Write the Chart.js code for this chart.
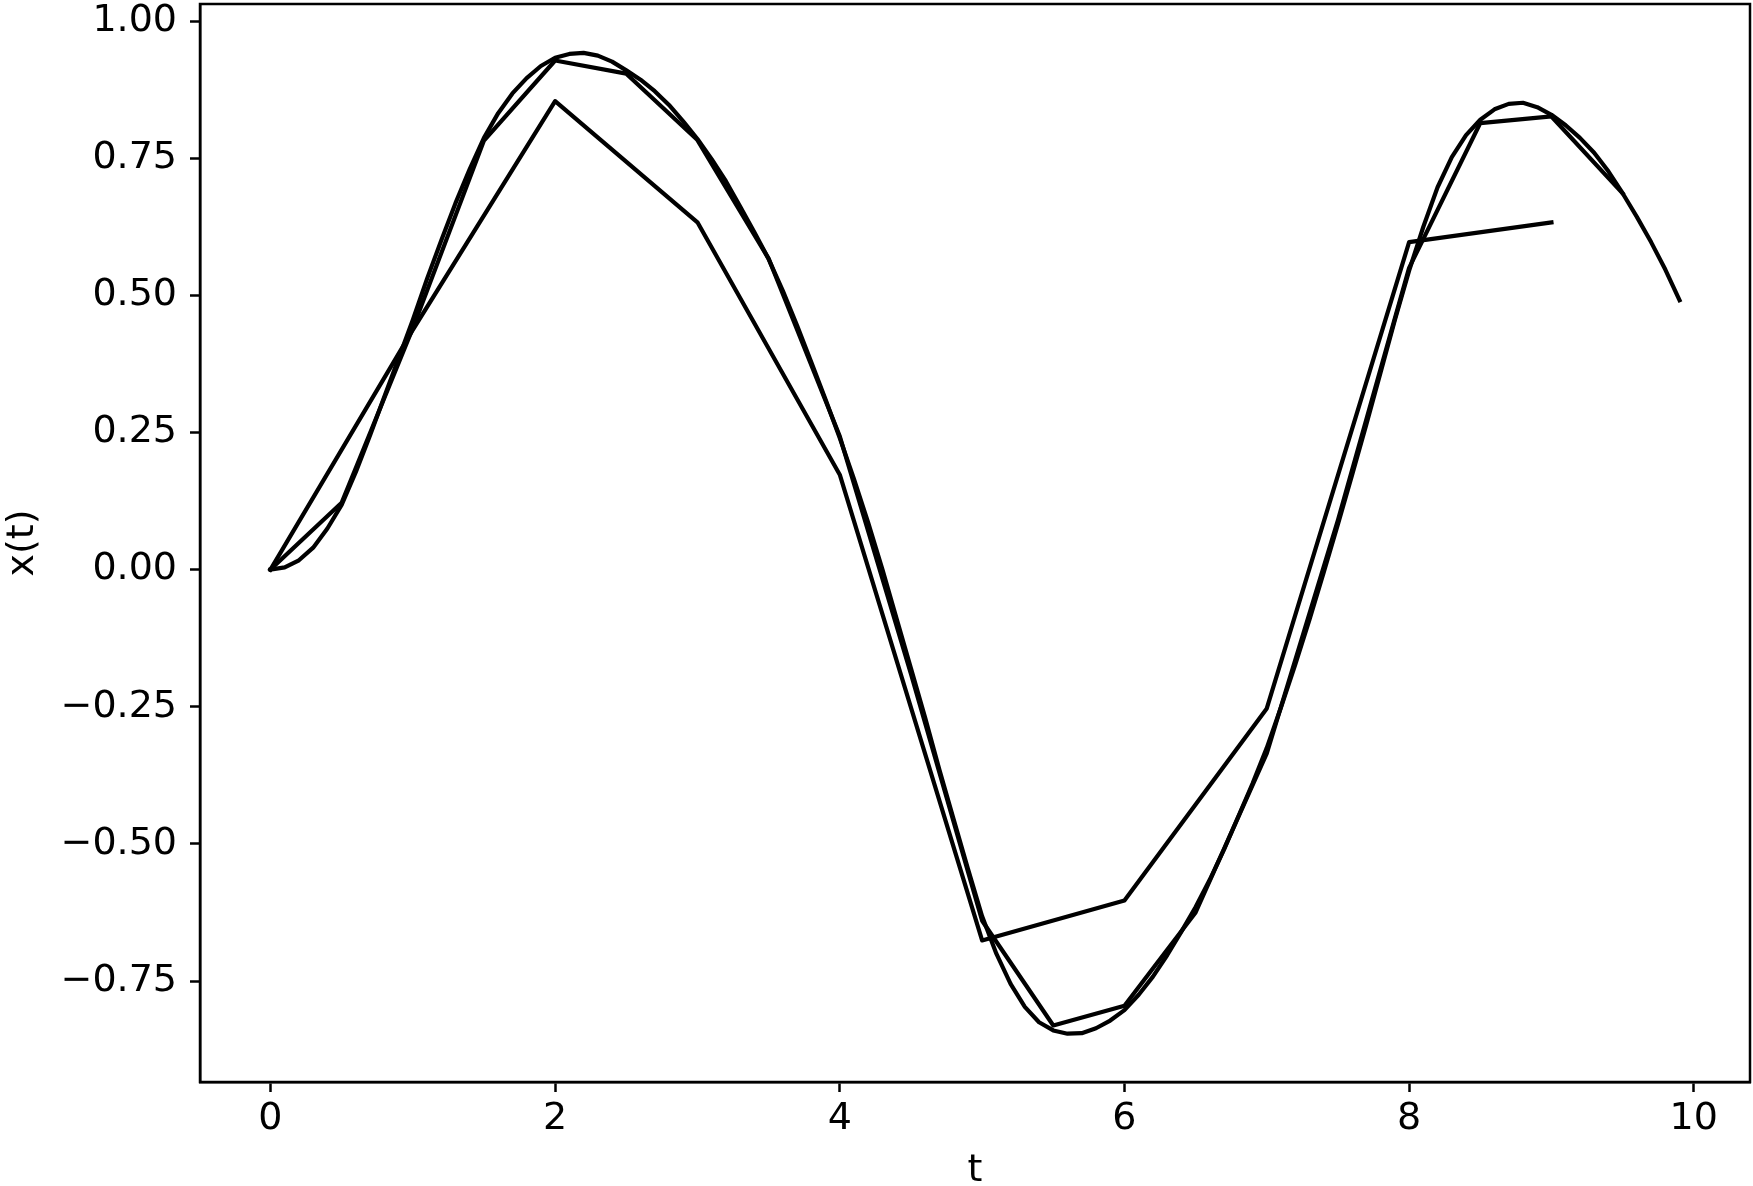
<!DOCTYPE html>
<html>
<head>
<meta charset="utf-8">
<title>x(t)</title>
<script src="https://cdn.jsdelivr.net/npm/chart.js@4.4.1/dist/chart.umd.min.js"></script>
<style>
    html, body { margin: 0; padding: 0; background: #ffffff; }
    #wrap { width: 1753px; height: 1186px; }
</style>
</head>
<body>
<div id="wrap"><canvas id="solution" width="1753" height="1186"></canvas></div>
<script>
// step h = 1
const tStep1 = [0, 1, 2, 3, 4, 5, 6, 7, 8, 9];
const xStep1 = [0, 0.437, 0.854, 0.633, 0.173, -0.676, -0.603, -0.253, 0.597, 0.633];

// step h = 0.5
const tStep05 = [0, 0.5, 1, 1.5, 2, 2.5, 3, 3.5, 4, 4.5, 5, 5.5, 6, 6.5, 7, 7.5, 8, 8.5, 9, 9.5];
const xStep05 = [0, 0.122, 0.440, 0.782, 0.928, 0.904, 0.783, 0.567, 0.243, -0.190,
                 -0.640, -0.831, -0.795, -0.625, -0.335, 0.090, 0.550, 0.814, 0.826, 0.686];

// step h = 0.1 (t = 0, 0.1, ... 9.9)
const hFine = 0.1;
const xFine = [
    0.000, 0.004, 0.017, 0.040, 0.075, 0.118, 0.178, 0.245, 0.315, 0.385,
    0.455, 0.530, 0.600, 0.668, 0.730, 0.787, 0.832, 0.868, 0.896, 0.918,
    0.933, 0.940, 0.942, 0.937, 0.926, 0.910, 0.893, 0.872, 0.847, 0.817,
    0.785, 0.748, 0.708, 0.662, 0.615, 0.566, 0.508, 0.445, 0.378, 0.310,
    0.240, 0.165, 0.085, 0.000, -0.090, -0.180, -0.270, -0.365, -0.455, -0.545,
    -0.632, -0.700, -0.755, -0.797, -0.825, -0.840, -0.846, -0.845, -0.836, -0.822,
    -0.803, -0.775, -0.742, -0.703, -0.660, -0.615, -0.565, -0.510, -0.450, -0.390,
    -0.325, -0.251, -0.173, -0.091, -0.005, 0.083, 0.173, 0.265, 0.360, 0.455,
    0.545, 0.625, 0.697, 0.752, 0.792, 0.820, 0.839, 0.849, 0.851, 0.843,
    0.829, 0.810, 0.787, 0.760, 0.726, 0.686, 0.643, 0.597, 0.547, 0.491
];
const tFine = xFine.map((_, i) => Math.round(i * hFine * 10) / 10);

const xTicks = [0, 2, 4, 6, 8, 10];
const yTicks = [-0.75, -0.5, -0.25, 0, 0.25, 0.5, 0.75, 1];

const FONT = 'DejaVu Sans';

function toPoints(ts, xs) {
    return ts.map((t, i) => ({ x: t, y: xs[i] }));
}

function lineSet(label, ts, xs) {
    return {
        label: label,
        data: toPoints(ts, xs),
        borderColor: '#000000',
        borderWidth: 4.2,
        borderJoinStyle: 'round',
        borderCapStyle: 'square',
        pointRadius: 0,
        tension: 0,
        fill: false
    };
}

// closes the axes box on top and right, like the matplotlib spines
const frameBox = {
    id: 'frameBox',
    afterDraw(chart) {
        const { ctx, chartArea } = chart;
        ctx.save();
        ctx.strokeStyle = '#000000';
        ctx.lineWidth = 2.5;
        ctx.strokeRect(chartArea.left, chartArea.top,
                       chartArea.right - chartArea.left, chartArea.bottom - chartArea.top);
        ctx.restore();
    }
};

const config = {
    type: 'line',
    data: {
        datasets: [
            lineSet('h = 1', tStep1, xStep1),
            lineSet('h = 0.5', tStep05, xStep05),
            lineSet('h = 0.1', tFine, xFine)
        ]
    },
    options: {
        responsive: false,
        animation: false,
        devicePixelRatio: 1,
        layout: { padding: { top: 4, right: 3, left: 0, bottom: 0 } },
        plugins: {
            legend: { display: false },
            tooltip: { enabled: false }
        },
        scales: {
            x: {
                type: 'linear',
                position: 'bottom',
                min: -0.495,
                max: 10.395,
                afterBuildTicks: scale => { scale.ticks = xTicks.map(v => ({ value: v })); },
                afterFit: scale => {
                    scale.height = 104;
                    scale.paddingLeft = 0;
                    scale.paddingRight = 0;
                },
                ticks: {
                    font: { family: FONT, size: 38 },
                    color: '#000000',
                    padding: 4,
                    maxRotation: 0,
                    autoSkip: false,
                    callback: value => String(value)
                },
                grid: {
                    drawOnChartArea: false,
                    drawTicks: true,
                    tickLength: 10,
                    tickWidth: 2.5,
                    tickColor: '#000000'
                },
                border: { display: true, color: '#000000', width: 2.5 },
                title: {
                    display: true,
                    text: 't',
                    color: '#000000',
                    font: { family: FONT, size: 38, lineHeight: 1 },
                    padding: { top: 0, bottom: -4 }
                }
            },
            y: {
                type: 'linear',
                position: 'left',
                min: -0.934,
                max: 1.031,
                afterBuildTicks: scale => { scale.ticks = yTicks.map(v => ({ value: v })); },
                afterFit: scale => {
                    scale.width = 200;
                    scale.paddingTop = 0;
                    scale.paddingBottom = 0;
                },
                ticks: {
                    font: { family: FONT, size: 38 },
                    color: '#000000',
                    padding: 13,
                    autoSkip: false,
                    callback: value => value < 0
                        ? '\u2212' + Math.abs(value).toFixed(2)
                        : value.toFixed(2)
                },
                grid: {
                    drawOnChartArea: false,
                    drawTicks: true,
                    tickLength: 10,
                    tickWidth: 2.5,
                    tickColor: '#000000'
                },
                border: { display: true, color: '#000000', width: 2.5 },
                title: {
                    display: true,
                    text: 'x(t)',
                    color: '#000000',
                    font: { family: FONT, size: 38, lineHeight: 1 },
                    padding: { top: 4, bottom: 0 }
                }
            }
        }
    },
    plugins: [frameBox]
};

const solutionChart = new Chart(document.getElementById('solution'), config);
</script>
</body>
</html>
